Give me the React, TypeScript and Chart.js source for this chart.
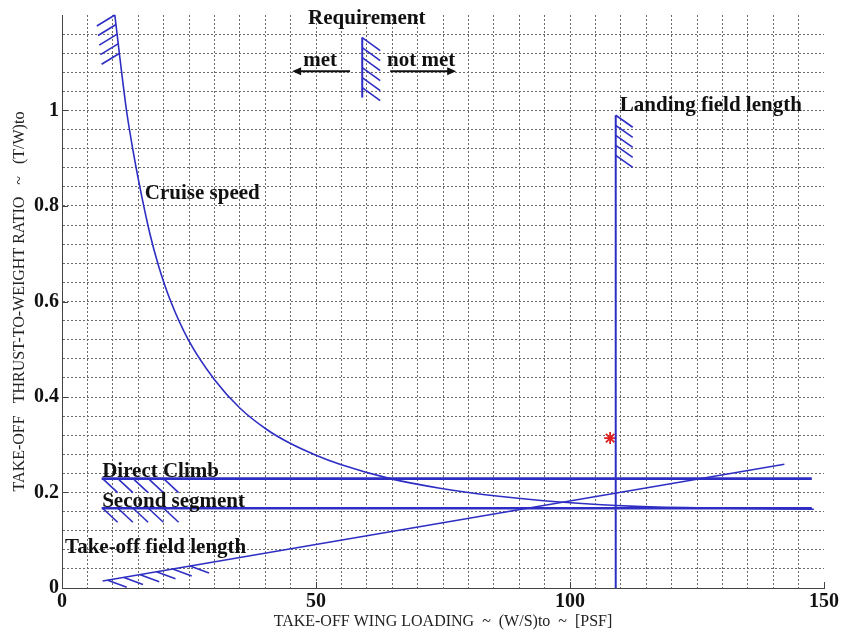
import React, { useEffect, useRef } from 'react';
import { Chart, registerables } from 'chart.js';

Chart.register(...registerables);

// ---------- data ----------
const xMajorTicks = [0, 50, 100, 150];
const yMajorTicks = [0, 0.2, 0.4, 0.6, 0.8, 1];

const cruiseX = [10.4, 11.4, 12.7, 14.0, 15.7, 17.3, 19.0, 21.3, 24.9, 30.1, 35.0, 40.3, 44.9, 50.0, 54.7, 64.6, 74.4, 86, 98, 113, 130, 148];
const cruiseY = [1.2, 1.11, 1.0, 0.915, 0.82, 0.742, 0.675, 0.603, 0.519, 0.435, 0.377, 0.332, 0.303, 0.278, 0.259, 0.229, 0.209, 0.192, 0.18, 0.171, 0.167, 0.165];

const constraintX = [7.8, 147.6];
const directClimbY = 0.229;
const secondSegmentY = 0.167;

const toflX = [8, 142.2];
const toflY = [0.0145, 0.259];

const landingX = 109;
const landingY = [0, 0.99];

const requirementX = 59.1;
const requirementY = [1.027, 1.153];

const designX = 107.9;
const designY = 0.314;

// hatch anchor points (data units)
const cruiseHatchX = [10.4, 10.64, 10.87, 11.11, 11.34];
const cruiseHatchY = [1.2, 1.18, 1.16, 1.14, 1.12];
const requirementHatchY = [1.1527, 1.1318, 1.1109, 1.09, 1.069, 1.0481];
const landingHatchY = [0.99, 0.969, 0.948, 0.927, 0.906];
const climbHatchX = [8, 11, 14, 17, 20];
const toflHatchX = [9, 12.2, 15.4, 18.6, 21.8, 25.2];

const BLUE = '#2e2ec4';
const SERIF = '"Liberation Serif", "Times New Roman", serif';

const pts = (xs: number[], ys: number[]) => xs.map((x, i) => ({ x, y: ys[i] }));

const overlayPlugin = {
  id: 'overlay',
  afterDatasetsDraw(chart: any) {
    const { ctx, scales } = chart;
    const xs = scales.x;
    const ys = scales.y;
    const px = (v: number) => xs.getPixelForValue(v);
    const py = (v: number) => ys.getPixelForValue(v);
    ctx.save();

    // inward major ticks
    ctx.strokeStyle = '#444';
    ctx.lineWidth = 1;
    for (const v of xMajorTicks) {
      const X = Math.round(px(v)) + 0.5;
      ctx.beginPath();
      ctx.moveTo(X, ys.bottom);
      ctx.lineTo(X, ys.bottom - 6);
      ctx.stroke();
    }
    for (const v of yMajorTicks) {
      const Y = Math.round(py(v)) + 0.5;
      ctx.beginPath();
      ctx.moveTo(xs.left, Y);
      ctx.lineTo(xs.left + 6, Y);
      ctx.stroke();
    }

    // hatches
    const hatch = (ax: number, ay: number, dx: number, dy: number) => {
      const X = px(ax);
      const Y = py(ay);
      ctx.beginPath();
      ctx.moveTo(X, Y);
      ctx.lineTo(X + dx, Y + dy);
      ctx.stroke();
    };
    ctx.strokeStyle = BLUE;
    ctx.lineWidth = 1.6;
    cruiseHatchX.forEach((x, i) => hatch(x, cruiseHatchY[i], -18, 11));
    requirementHatchY.forEach((y) => hatch(requirementX, y, 18, 13));
    landingHatchY.forEach((y) => hatch(landingX, y, 17, 12));
    climbHatchX.forEach((x) => hatch(x, directClimbY, 15, 14));
    climbHatchX.forEach((x) => hatch(x, secondSegmentY, 15, 14));
    const slope = (toflY[1] - toflY[0]) / (toflX[1] - toflX[0]);
    toflHatchX.forEach((x) => hatch(x, toflY[0] + (x - toflX[0]) * slope, 19, 7));

    // arrows
    const arrow = (x0: number, x1: number, yv: number) => {
      const X0 = px(x0), X1 = px(x1), Y = py(yv);
      const dir = Math.sign(X1 - X0);
      ctx.strokeStyle = '#111';
      ctx.fillStyle = '#111';
      ctx.lineWidth = 2;
      ctx.beginPath();
      ctx.moveTo(X0, Y);
      ctx.lineTo(X1 - dir * 6, Y);
      ctx.stroke();
      ctx.beginPath();
      ctx.moveTo(X1, Y);
      ctx.lineTo(X1 - dir * 9, Y - 4);
      ctx.lineTo(X1 - dir * 9, Y + 4);
      ctx.closePath();
      ctx.fill();
    };
    arrow(56.7, 45.3, 1.082);
    arrow(64.6, 77.6, 1.082);

    // texts
    ctx.fillStyle = '#111';
    ctx.textBaseline = 'middle';
    const text = (s: string, x: number, yv: number, align: CanvasTextAlign, size = 21) => {
      ctx.font = `bold ${size}px ${SERIF}`;
      ctx.textAlign = align;
      ctx.fillText(s, px(x), py(yv));
    };
    text('Requirement', 60.0, 1.192, 'center');
    text('met', 50.8, 1.105, 'center');
    text('not met', 70.7, 1.105, 'center');
    text('Cruise speed', 16.3, 0.826, 'left');
    text('Landing field length', 109.8, 1.01, 'left');
    text('Direct Climb', 7.9, 0.243, 'left');
    text('Second segment', 7.9, 0.18, 'left');
    text('Take-off field length', 0.6, 0.084, 'left');

    ctx.restore();
  },
};

const gridColorX = (c: any) => {
  const v = c.tick ? c.tick.value : 0;
  return Math.abs(v) < 1e-6 || Math.abs(v - 150) < 1e-6 ? 'rgba(0,0,0,0)' : '#6a6a6a';
};
const gridColorY = (c: any) => {
  const v = c.tick ? c.tick.value : 0;
  return Math.abs(v) < 1e-6 || Math.abs(v - 1.2) < 1e-6 ? 'rgba(0,0,0,0)' : '#6a6a6a';
};

export default function App() {
  const ref = useRef<HTMLCanvasElement | null>(null);

  useEffect(() => {
    if (!ref.current) return;
    const lineDs = (data: any[], width: number, extra: any = {}) => ({
      data,
      showLine: true,
      borderColor: BLUE,
      borderWidth: width,
      pointRadius: 0,
      fill: false,
      ...extra,
    });
    const chart = new Chart(ref.current, {
      type: 'scatter',
      data: {
        datasets: [
          lineDs(pts(cruiseX, cruiseY), 1.6, { cubicInterpolationMode: 'monotone' }),
          lineDs(pts(constraintX, [directClimbY, directClimbY]), 2.6),
          lineDs(pts(constraintX, [secondSegmentY, secondSegmentY]), 2.6),
          lineDs(pts(toflX, toflY), 1.6),
          lineDs(pts([landingX, landingX], landingY), 2),
          lineDs(pts([requirementX, requirementX], requirementY), 2),
          {
            data: [{ x: designX, y: designY }],
            showLine: false,
            pointStyle: 'star',
            pointRadius: 6,
            borderColor: '#e02020',
            backgroundColor: '#e02020',
            borderWidth: 1.8,
          },
        ],
      },
      options: {
        animation: false,
        responsive: false,
        layout: { padding: { top: 14, right: 22, left: 0, bottom: 0 } },
        plugins: { legend: { display: false }, tooltip: { enabled: false } },
        scales: {
          x: {
            type: 'linear',
            min: 0,
            max: 150,
            afterFit: (s: any) => { s.height = 46; },
            ticks: {
              stepSize: 5,
              autoSkip: false,
              maxRotation: 0,
              padding: 2,
              color: '#111',
              font: { family: SERIF, size: 20, weight: 'bold' },
              callback: (v: any) => (xMajorTicks.some((t) => Math.abs(t - v) < 1e-6) ? String(Math.round(v)) : ''),
            },
            grid: { color: gridColorX, lineWidth: 1, drawTicks: false },
            border: { display: true, color: '#444', width: 1, dash: [2, 2] },
            title: {
              display: true,
              text: 'TAKE-OFF WING LOADING  ~  (W/S)to  ~  [PSF]',
              color: '#222',
              font: { family: SERIF, size: 16 },
              padding: { top: 0, bottom: 3 },
            },
          },
          y: {
            type: 'linear',
            min: 0,
            max: 1.2,
            afterFit: (s: any) => { s.width = 62; },
            ticks: {
              stepSize: 0.04,
              autoSkip: false,
              padding: 3,
              color: '#111',
              font: { family: SERIF, size: 20, weight: 'bold' },
              callback: (v: any) => {
                const m = yMajorTicks.find((t) => Math.abs(t - v) < 1e-6);
                return m === undefined ? '' : String(m);
              },
            },
            grid: { color: gridColorY, lineWidth: 1, drawTicks: false },
            border: { display: true, color: '#444', width: 1, dash: [2, 2] },
            title: {
              display: true,
              text: 'TAKE-OFF   THRUST-TO-WEIGHT RATIO   ~   (T/W)to',
              color: '#222',
              font: { family: SERIF, size: 16 },
              padding: { top: 10, bottom: 0 },
            },
          },
        },
      },
      plugins: [overlayPlugin],
    } as any);
    return () => chart.destroy();
  }, []);

  return (
    <div style={{ position: 'fixed', left: 0, top: 0, width: 846, height: 634, background: '#fff' }}>
      <canvas ref={ref} width={846} height={634} style={{ display: 'block' }} />
    </div>
  );
}
